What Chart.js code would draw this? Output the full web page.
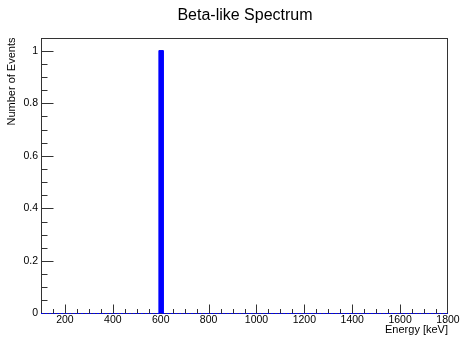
<!DOCTYPE html>
<html>
<head>
<meta charset="utf-8">
<script src="https://cdn.jsdelivr.net/npm/chart.js@4/dist/chart.umd.min.js"></script>
<style>
  body { margin: 0; background: #fff; }
  canvas { display: block; }
</style>
</head>
<body>
<canvas id="chart-canvas" width="461" height="342"></canvas>
<script>
// histogram binning (keV)
var binStart = 100;
var binWidth = 17;

// entries per bin (100 bins, 100 -> 1800 keV)
var counts = [
  0, 0, 0, 0, 0, 0, 0, 0, 0, 0,
  0, 0, 0, 0, 0, 0, 0, 0, 0, 0,
  0, 0, 0, 0, 0, 0, 0, 0, 0, 1,
  0, 0, 0, 0, 0, 0, 0, 0, 0, 0,
  0, 0, 0, 0, 0, 0, 0, 0, 0, 0,
  0, 0, 0, 0, 0, 0, 0, 0, 0, 0,
  0, 0, 0, 0, 0, 0, 0, 0, 0, 0,
  0, 0, 0, 0, 0, 0, 0, 0, 0, 0,
  0, 0, 0, 0, 0, 0, 0, 0, 0, 0,
  0, 0, 0, 0, 0, 0, 0, 0, 0, 0
];

// axis ticks
var xTickValues = [200, 400, 600, 800, 1000, 1200, 1400, 1600, 1800];
var yTickValues = [0, 0.2, 0.4, 0.6, 0.8, 1];
var yTickLabels = ["0", "0.2", "0.4", "0.6", "0.8", "1"];

var FONT = "'Liberation Sans', Arial, Helvetica, sans-serif";

// bars at bin centres, outline as step points (left edge, right edge)
var barPoints = [];
var stepPoints = [];
for (var i = 0; i < counts.length; i++) {
  var lo = binStart + i * binWidth;
  barPoints.push({ x: lo + binWidth / 2, y: counts[i] });
  stepPoints.push({ x: lo, y: counts[i] });
  stepPoints.push({ x: lo + binWidth, y: counts[i] });
}

// ROOT style frame: box + ticks pointing inside, title on top
var rootFrame = {
  id: 'rootFrame',
  beforeDatasetsDraw: function(chart) {
    var ctx = chart.ctx;
    var a = chart.chartArea;
    var xs = chart.scales.x;
    var ys = chart.scales.y;
    var left = Math.round(a.left) + 0.5;
    var bottom = Math.round(a.bottom) - 0.5;
    var top = Math.round(a.top) + 0.5;
    var right = Math.round(a.right) - 0.5;

    ctx.save();
    ctx.strokeStyle = '#333';
    ctx.lineWidth = 1;
    ctx.strokeRect(left, top, right - left, bottom - top);

    ctx.beginPath();
    // x ticks: every 50, long on multiples of 200
    for (var v = 150; v < xs.max; v += 50) {
      var px = Math.round(xs.getPixelForValue(v)) + 0.5;
      var len = (v % 200 === 0) ? 9 : 4.5;
      ctx.moveTo(px, bottom);
      ctx.lineTo(px, bottom - len);
    }
    // y ticks: every 0.05, long on multiples of 0.2
    for (var k = 1; k <= 21; k++) {
      var py = Math.round(ys.getPixelForValue(k * 0.05)) + 0.5;
      var ylen = (k % 4 === 0) ? 12 : 6;
      ctx.moveTo(left, py);
      ctx.lineTo(left + ylen, py);
    }
    ctx.stroke();

    // chart title
    ctx.fillStyle = '#000';
    ctx.font = '16px ' + FONT;
    ctx.textAlign = 'center';
    ctx.textBaseline = 'alphabetic';
    ctx.fillText('Beta-like Spectrum', 245, 20);
    ctx.restore();
  }
};

var ctx = document.getElementById("chart-canvas");

var chartCanvas = new Chart(ctx, {
  type: 'bar',
  data: {
    datasets: [
      {
        type: 'line',
        label: 'outline',
        data: stepPoints,
        borderColor: '#0000ff',
        borderWidth: 1,
        // dotted only where the histogram sits on zero
        segment: {
          borderDash: function(c) {
            return (c.p0.parsed.y === 0 && c.p1.parsed.y === 0) ? [2, 2] : [];
          }
        },
        pointRadius: 0,
        tension: 0,
        fill: false,
        clip: false,
        order: 2
      },
      {
        type: 'bar',
        label: 'Beta-like Spectrum',
        data: barPoints,
        backgroundColor: '#0000ff',
        borderWidth: 0,
        barPercentage: 1,
        categoryPercentage: 1,
        order: 1
      }]
  },
  plugins: [rootFrame],
  options: {
    responsive: false,
    animation: false,
    layout: {
      padding: { top: 37.5, right: 13, left: 0, bottom: 0 }
    },
    plugins: {
      legend: { display: false },
      tooltip: { enabled: false },
      title: { display: false }
    },
    scales: {
      x: {
        type: 'linear',
        min: 100,
        max: 1800,
        offset: false,
        grid: { display: false, drawTicks: false },
        border: { display: false },
        afterBuildTicks: function(scale) {
          scale.ticks = xTickValues.map(function(v) { return { value: v }; });
        },
        afterFit: function(scale) {
          scale.height = 28.5;
        },
        ticks: {
          padding: 0,
          maxRotation: 0,
          autoSkip: false,
          color: '#000',
          font: { family: FONT, size: 10.5 },
          callback: function(value) { return String(value); }
        },
        title: {
          display: true,
          text: 'Energy [keV]',
          align: 'end',
          color: '#000',
          font: { family: FONT, size: 11 },
          padding: { top: 0, bottom: 5 }
        }
      },
      y: {
        type: 'linear',
        min: 0,
        max: 1.05,
        grid: { display: false, drawTicks: false },
        border: { display: false },
        afterBuildTicks: function(scale) {
          scale.ticks = yTickValues.map(function(v) { return { value: v }; });
        },
        afterFit: function(scale) {
          scale.width = 41;
        },
        ticks: {
          padding: 3,
          autoSkip: false,
          color: '#000',
          font: { family: FONT, size: 10.5 },
          callback: function(value) {
            var idx = yTickValues.indexOf(value);
            return idx >= 0 ? yTickLabels[idx] : '';
          }
        },
        title: {
          display: true,
          text: 'Number of Events',
          align: 'end',
          color: '#000',
          font: { family: FONT, size: 11 },
          padding: { top: 5, bottom: 0 }
        }
      }
    }
  }
});
</script>
</body>
</html>
